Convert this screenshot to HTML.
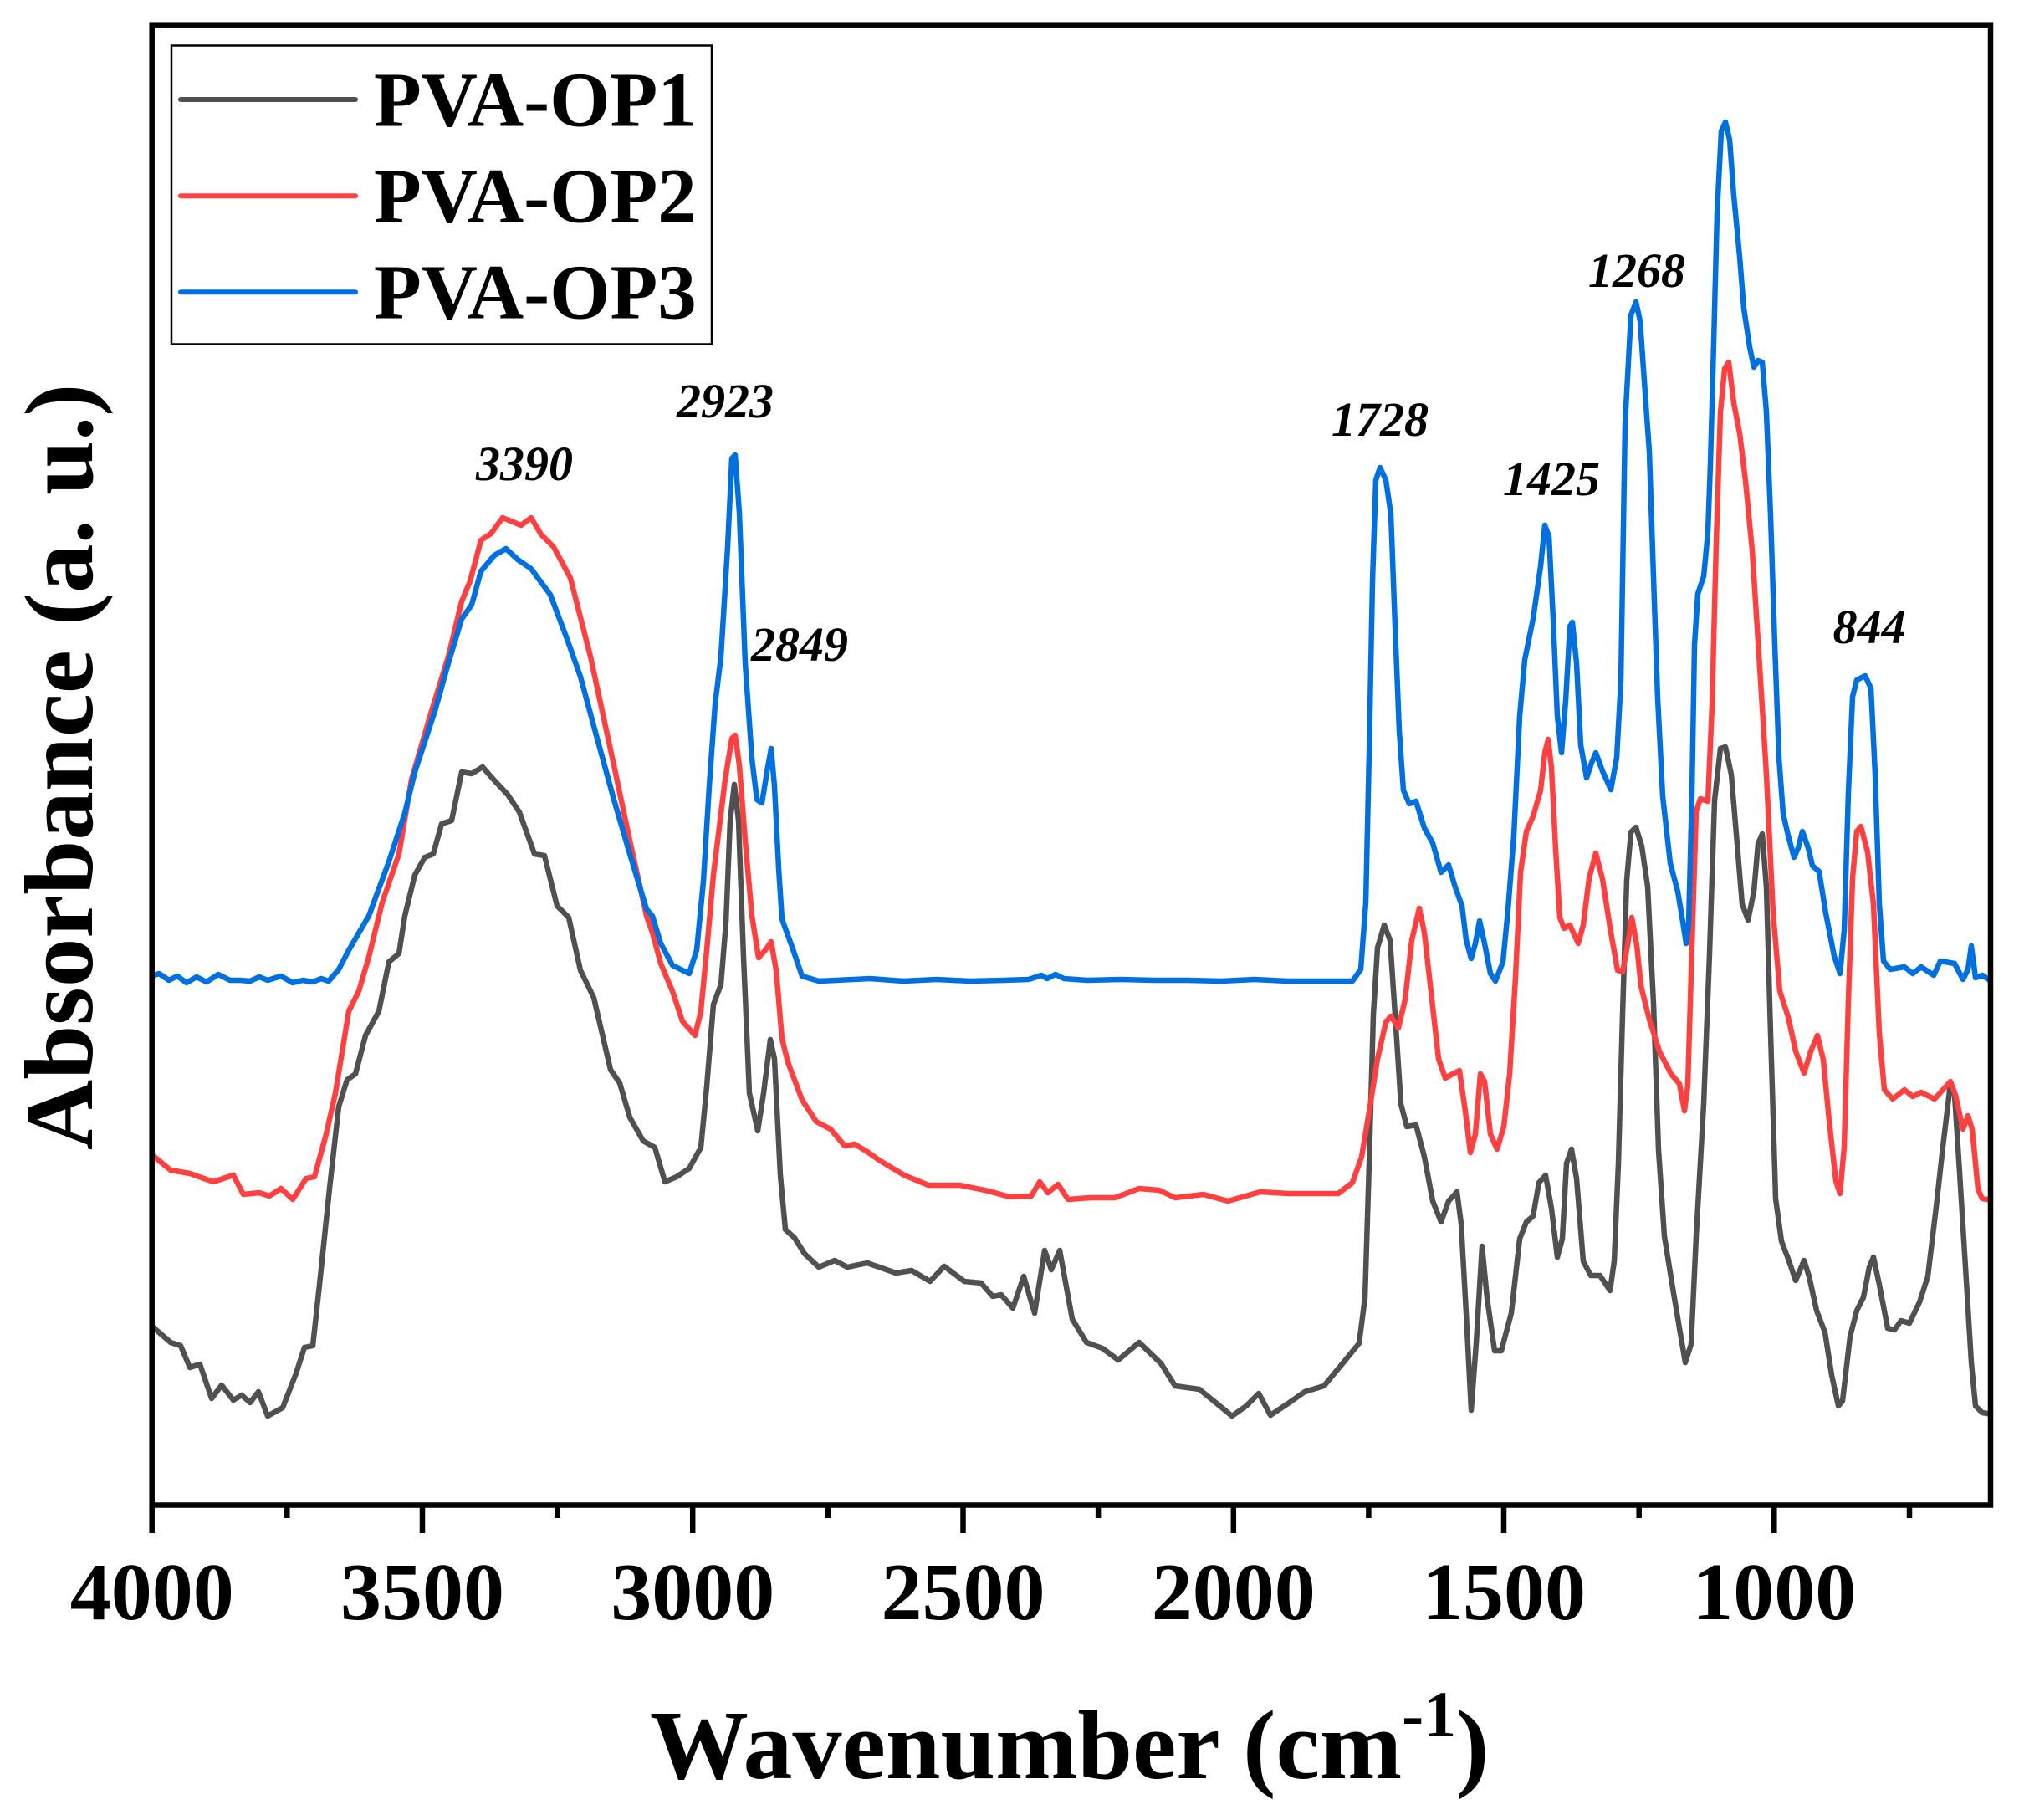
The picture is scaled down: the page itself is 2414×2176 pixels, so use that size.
<!DOCTYPE html>
<html>
<head>
<meta charset="utf-8">
<style>
html,body{margin:0;padding:0;background:#fff;}
svg{display:block;}
text{font-family:"Liberation Serif","Times New Roman",serif;font-weight:bold;fill:#000;}
</style>
</head>
<body>
<svg width="2414" height="2176" viewBox="0 0 2414 2176" xmlns="http://www.w3.org/2000/svg">
<defs>
<clipPath id="pa"><rect x="182" y="30" width="2198" height="1769"/></clipPath>
</defs>
<rect x="0" y="0" width="2414" height="2176" fill="#fff"/>

<g clip-path="url(#pa)" fill="none" stroke-width="6.5" stroke-linejoin="round" stroke-linecap="round">
<!-- Gray PVA-OP1 -->
<polyline stroke="#505050" points="182,1586 204,1605 216,1609 227,1635 239,1631 253,1672 265,1656 279,1674 289,1668 299,1677 309,1664 320,1693 338,1683 354,1642 364,1611 374,1609 382,1536 394,1421 405,1323 415,1291 425,1284 437,1238 453,1209 465,1150 477,1140 484,1095 496,1046 508,1025 518,1021 528,985 540,981 552,923 564,925 577,917 591,933 607,950 621,971 639,1021 651,1023 666,1083 680,1097 694,1160 710,1193 730,1279 741,1295 753,1336 769,1364 783,1372 795,1413 809,1407 824,1397 838,1372 845,1299 853,1201 862,1177 868,1103 873,981 878,938 883,981 889,1144 896,1307 906,1352 913,1307 921,1243 926,1266 933,1405 939,1470 950,1480 962,1499 979,1515 998,1507 1013,1515 1037,1510 1071,1522 1090,1519 1112,1532 1129,1514 1153,1532 1173,1534 1187,1550 1197,1548 1211,1564 1224,1526 1237,1570 1249,1495 1257,1518 1267,1495 1282,1577 1299,1605 1318,1612 1337,1626 1362,1605 1388,1630 1405,1657 1434,1661 1456,1679 1473,1693 1490,1681 1505,1666 1519,1692 1540,1678 1560,1664 1583,1657 1607,1628 1625,1606 1632,1552 1637,1391 1642,1213 1647,1133 1655,1106 1662,1124 1668,1213 1675,1320 1682,1347 1693,1345 1703,1383 1713,1436 1723,1461 1732,1436 1742,1425 1747,1463 1753,1570 1759,1686 1765,1606 1772,1490 1778,1552 1787,1615 1795,1615 1807,1570 1817,1481 1825,1461 1833,1454 1840,1414 1848,1405 1855,1445 1862,1503 1868,1481 1873,1391 1879,1374 1885,1409 1893,1508 1902,1525 1913,1525 1925,1543 1930,1508 1935,1391 1940,1213 1945,1052 1950,995 1956,989 1963,1012 1970,1060 1977,1200 1983,1375 1990,1478 2000,1540 2008,1588 2015,1629 2022,1607 2028,1478 2037,1320 2044,1140 2050,957 2057,895 2063,893 2070,926 2077,1009 2083,1081 2090,1100 2097,1066 2102,1009 2107,997 2112,1061 2117,1236 2123,1433 2130,1484 2138,1505 2147,1531 2157,1507 2163,1526 2172,1567 2182,1593 2190,1644 2198,1681 2203,1675 2212,1598 2220,1567 2228,1551 2235,1515 2240,1503 2247,1536 2257,1588 2265,1590 2273,1579 2283,1582 2295,1557 2305,1526 2315,1443 2323,1371 2332,1296 2337,1309 2343,1402 2350,1515 2357,1629 2362,1681 2370,1689 2382,1691"/>
<!-- Red PVA-OP2 -->
<polyline stroke="#ff4040" points="182,1381 204,1399 227,1403 255,1413 279,1405 291,1428 310,1426 322,1430 336,1421 350,1434 366,1409 376,1407 390,1356 401,1307 417,1209 429,1185 441,1144 457,1079 477,1021 492,932 516,850 536,785 552,719 562,695 575,646 587,638 601,619 623,628 635,619 647,639 662,654 682,691 706,785 734,915 753,1005 773,1095 780,1115 790,1152 804,1185 816,1221 831,1238 838,1209 845,1136 853,1046 860,989 867,932 875,883 879,879 884,915 891,1005 899,1095 907,1145 915,1136 922,1126 928,1160 935,1242 942,1270 959,1315 976,1341 993,1350 1010,1370 1022,1368 1037,1377 1051,1387 1081,1405 1110,1417 1148,1417 1182,1424 1207,1431 1233,1430 1243,1413 1253,1426 1265,1416 1277,1434 1304,1432 1333,1432 1362,1421 1386,1423 1405,1432 1439,1428 1468,1436 1507,1425 1540,1427 1600,1427 1617,1414 1628,1383 1637,1329 1647,1266 1657,1222 1663,1215 1672,1229 1680,1195 1688,1124 1697,1086 1703,1115 1712,1195 1720,1266 1728,1289 1737,1284 1745,1280 1752,1329 1758,1378 1764,1356 1770,1284 1775,1293 1782,1356 1790,1374 1798,1347 1805,1284 1812,1168 1818,1043 1825,994 1833,976 1842,945 1847,900 1851,884 1855,918 1860,1016 1865,1097 1870,1110 1877,1106 1887,1128 1893,1106 1900,1050 1908,1020 1916,1051 1925,1109 1934,1160 1940,1162 1946,1130 1951,1097 1957,1130 1962,1179 1972,1219 1984,1257 1998,1284 2008,1296 2014,1328 2018,1298 2023,1130 2028,970 2033,955 2042,958 2047,844 2052,648 2057,493 2062,441 2067,433 2073,482 2080,518 2087,575 2095,658 2103,782 2112,926 2120,1092 2128,1185 2138,1216 2147,1257 2157,1283 2165,1257 2173,1238 2180,1267 2187,1340 2195,1412 2200,1427 2205,1371 2210,1195 2215,1050 2220,994 2225,988 2233,1019 2240,1081 2247,1236 2253,1303 2263,1314 2277,1303 2287,1311 2297,1306 2313,1314 2323,1303 2332,1293 2338,1309 2347,1350 2353,1334 2358,1350 2365,1422 2370,1433 2382,1435"/>
<!-- Blue PVA-OP3 -->
<polyline stroke="#0070e0" points="182,1167 190,1164 202,1172 212,1167 223,1175 235,1168 247,1174 261,1165 275,1172 287,1172 299,1173 310,1168 320,1172 336,1167 350,1175 362,1172 374,1174 384,1170 393,1173 405,1159 417,1136 441,1095 465,1030 484,972 496,923 520,850 536,793 552,740 564,723 575,683 591,664 605,656 619,669 635,680 658,711 678,764 694,809 714,883 734,956 753,1021 773,1087 780,1095 790,1128 804,1154 824,1164 833,1136 841,1054 848,940 855,842 862,785 870,654 875,548 879,544 884,613 891,793 899,907 905,956 911,960 917,923 922,895 926,940 931,1038 935,1099 947,1132 959,1167 979,1173 1000,1172 1040,1170 1080,1173 1120,1171 1160,1173 1200,1172 1230,1171 1245,1166 1252,1170 1262,1165 1272,1170 1300,1172 1340,1171 1380,1172 1420,1172 1460,1173 1500,1171 1540,1173 1580,1173 1617,1173 1627,1159 1633,1079 1637,900 1641,695 1645,574 1650,559 1657,574 1663,615 1668,749 1673,874 1678,945 1685,961 1693,958 1703,990 1713,1008 1723,1043 1732,1034 1740,1061 1748,1083 1753,1124 1759,1146 1764,1128 1769,1101 1775,1128 1782,1164 1788,1173 1797,1150 1803,1088 1810,999 1817,856 1823,789 1833,740 1842,677 1847,628 1852,641 1857,740 1862,856 1867,900 1872,838 1877,749 1880,744 1885,793 1890,891 1897,930 1903,912 1908,900 1916,922 1926,944 1933,906 1938,814 1943,506 1950,377 1956,361 1961,384 1967,470 1972,540 1977,690 1982,835 1988,952 1997,1032 2006,1066 2012,1102 2016,1128 2019,1104 2023,947 2026,771 2030,710 2037,689 2042,637 2045,555 2049,410 2053,255 2058,157 2063,146 2068,167 2073,234 2080,307 2085,369 2092,415 2097,439 2102,431 2107,433 2112,493 2117,617 2122,771 2127,906 2132,973 2138,999 2145,1025 2150,1014 2155,994 2162,1014 2167,1035 2175,1042 2183,1092 2193,1143 2200,1164 2205,1112 2210,947 2215,833 2220,813 2230,808 2237,823 2242,926 2247,1081 2252,1149 2260,1159 2277,1156 2287,1164 2297,1156 2312,1166 2320,1149 2337,1152 2347,1171 2353,1159 2357,1131 2362,1169 2370,1166 2382,1174"/>
</g>

<!-- Frame -->
<rect x="181.7" y="29.7" width="2198.3" height="1769.8" fill="none" stroke="#000" stroke-width="6.5"/>

<!-- Ticks -->
<g stroke="#000" stroke-width="6.5">
<line x1="181.7" y1="1799" x2="181.7" y2="1833"/>
<line x1="505.0" y1="1799" x2="505.0" y2="1833"/>
<line x1="828.2" y1="1799" x2="828.2" y2="1833"/>
<line x1="1151.5" y1="1799" x2="1151.5" y2="1833"/>
<line x1="1474.8" y1="1799" x2="1474.8" y2="1833"/>
<line x1="1798.0" y1="1799" x2="1798.0" y2="1833"/>
<line x1="2121.3" y1="1799" x2="2121.3" y2="1833"/>
<line x1="343.3" y1="1799" x2="343.3" y2="1815"/>
<line x1="666.6" y1="1799" x2="666.6" y2="1815"/>
<line x1="989.9" y1="1799" x2="989.9" y2="1815"/>
<line x1="1313.1" y1="1799" x2="1313.1" y2="1815"/>
<line x1="1636.4" y1="1799" x2="1636.4" y2="1815"/>
<line x1="1959.7" y1="1799" x2="1959.7" y2="1815"/>
<line x1="2283.0" y1="1799" x2="2283.0" y2="1815"/>
</g>

<!-- Tick labels -->
<g font-size="98" text-anchor="middle">
<text x="181.7" y="1936">4000</text>
<text x="505.0" y="1936">3500</text>
<text x="828.2" y="1936">3000</text>
<text x="1151.5" y="1936">2500</text>
<text x="1474.8" y="1936">2000</text>
<text x="1798.0" y="1936">1500</text>
<text x="2121.3" y="1936">1000</text>
</g>

<!-- Axis titles -->
<text x="777" y="2126" font-size="118">Wavenumber (cm<tspan font-size="78" dy="-50">-1</tspan><tspan dy="50">)</tspan></text>
<text transform="translate(110,917) rotate(-90)" font-size="117" text-anchor="middle">Absorbance (a. u.)</text>

<!-- Peak annotations -->
<g font-size="58" font-style="italic" text-anchor="middle">
<text x="627" y="574">3390</text>
<text x="867" y="499">2923</text>
<text x="956" y="790">2849</text>
<text x="1650" y="521">1728</text>
<text x="1855" y="592">1425</text>
<text x="1957" y="343">1268</text>
<text x="2235" y="769">844</text>
</g>

<!-- Legend -->
<rect x="205" y="54.5" width="646" height="357" fill="#fff" stroke="#000" stroke-width="2.5"/>
<g stroke-width="6" stroke-linecap="round">
<line x1="216" y1="119" x2="425" y2="119" stroke="#505050"/>
<line x1="216" y1="234.3" x2="425" y2="234.3" stroke="#ff4040"/>
<line x1="216" y1="349.3" x2="425" y2="349.3" stroke="#0070e0"/>
</g>
<g font-size="93">
<text x="447" y="150.7">PVA-OP1</text>
<text x="447" y="265.7">PVA-OP2</text>
<text x="447" y="380.3">PVA-OP3</text>
</g>
</svg>
</body>
</html>
